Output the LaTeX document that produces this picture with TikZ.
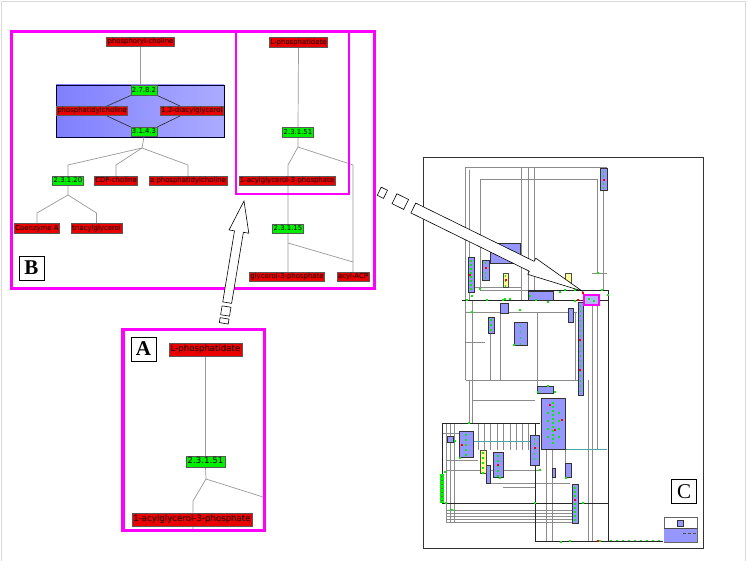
\documentclass[tikz,border=0pt]{standalone}
\usepackage{fontspec}
\newfontfamily\lbl{DejaVu Sans}
\newfontfamily\tagfont{Liberation Serif}
\usetikzlibrary{calc}
\definecolor{nred}{RGB}{235,0,0}
\definecolor{ngreen}{RGB}{0,240,0}
\definecolor{mag}{RGB}{255,0,255}
\definecolor{cblue}{RGB}{150,150,255}
\definecolor{cyel}{RGB}{255,255,150}
\pgfdeclarelayer{bg}
\pgfdeclarelayer{edges}
\pgfsetlayers{bg,edges,main}
\tikzset{
 rn/.style={draw=black!65, fill=nred, text=black, inner xsep=1pt, inner ysep=0pt, minimum height=9.5pt, text height=5.2pt, text depth=1.6pt, font=\lbl\fontsize{6.9}{7}\selectfont, line width=0.5pt},
 gn/.style={rn, fill=ngreen},
 rnA/.style={rn, minimum height=13pt, text height=6.5pt, text depth=2pt, font=\lbl\fontsize{8.6}{9}\selectfont, inner xsep=1.5pt},
 gnA/.style={rnA, fill=ngreen, minimum height=11pt},
 lnk/.style={draw=black!40, line width=0.7pt},
 clnk/.style={draw=black!80, line width=0.7pt},
 panel/.style={draw=mag, line width=3.2pt},
 lettertag/.style={draw=black, line width=0.6pt, fill=white, minimum width=25pt, minimum height=24pt, inner sep=0pt, font=\tagfont\bfseries\fontsize{21}{21}\selectfont},
 blockarrow/.style={draw=black, line width=0.6pt, fill=white, line join=miter},
 cg/.style={draw=black!45, line width=0.55pt},
 ck/.style={draw=black!85, line width=0.75pt},
 cb/.style={draw=black!80, fill=cblue, line width=0.5pt},
 cy/.style={draw=black!70, fill=cyel, line width=0.5pt},
 bluebox/.style={draw=black!80!blue, line width=0.8pt, left color=cblue!85!blue, right color=cblue!80!white, inner sep=0pt},
}
\begin{document}
\begin{tikzpicture}[x=1pt,y=-1pt]
\useasboundingbox (0,0) rectangle (747,561);
\begin{pgfonlayer}{bg}
\fill[white] (0,0) rectangle (747,561);
\end{pgfonlayer}
\draw[black!15, line width=0.8pt] (1,561) -- (1,1) -- (745,1) -- (745,561);

% ---------------- Panel B ----------------
\begin{pgfonlayer}{bg}
\node[bluebox, minimum width=168pt, minimum height=52pt] (cplx) at (140,111) {};
\end{pgfonlayer}
\node[rn] (pc) at (140.5,42) {phosphoryl-choline};
\node[gn] (e2782) at (144,90.5) {2.7.8.2};
\node[rn] (ptc) at (92,111) {phosphatidylcholine};
\node[rn] (dag) at (192,111) {1,2-diacylglycerol};
\node[gn] (e3143) at (144,132) {3.1.4.3};
\node[gn] (e23120) at (68,181) {2.3.1.20};
\node[rn] (cdp) at (116,181) {CDP-choline};
\node[rn] (aptc) at (188,181) {a phosphatidylcholine};
\node[rn] (coa) at (37,228.5) {Coenzyme A};
\node[rn] (tag) at (96.5,228.5) {triacylglycerol};
\node[rn] (lpa) at (298.5,42.5) {L-phosphatidate};
\node[gn] (e23151) at (298,132.5) {2.3.1.51};
\node[rn] (lpa1) at (287,181) {1-acylglycerol-3-phosphate};
\node[gn] (e23115) at (288,229) {2.3.1.15};
\node[rn] (g3p) at (287,277) {glycerol-3-phosphate};
\node[rn] (acp) at (353,277) {acyl-ACP};
\node[lettertag] (labB) at (31.5,268) {B};

\coordinate (j1) at (142,148);
\coordinate (k1) at (0,165);
\coordinate (j2) at (68,195);
\coordinate (k2) at (0,213);
\coordinate (j3) at (298,147);
\coordinate (k3) at (288,165);
\coordinate (k4) at (353,165);
\coordinate (k5) at (288,243);
\coordinate (k6) at (353,262);
\begin{pgfonlayer}{edges}
\draw[lnk] (pc.south) -- (pc.south |- e2782.north);
\draw[clnk] (e2782.south west) -- ([xshift=15pt]ptc.north);
\draw[clnk] ([xshift=15pt]ptc.south) -- (e3143.north west);
\draw[clnk] (e2782.south east) -- ([xshift=-12pt]dag.north);
\draw[clnk] ([xshift=-12pt]dag.south) -- (e3143.north east);
\draw[lnk] (e3143.south) -- (j1) -- (e23120.north |- k1) -- (e23120.north);
\draw[lnk] (j1) -- (cdp.north |- k1) -- (cdp.north);
\draw[lnk] (j1) -- (aptc.north |- k1) -- (aptc.north);
\draw[lnk] (e23120.south) -- (j2) -- (coa.north |- k2) -- (coa.north);
\draw[lnk] (j2) -- (tag.north |- k2) -- (tag.north);
\draw[lnk] (lpa.south) -- (e23151.north);
\draw[lnk] (e23151.south) -- (j3) -- (k3) -- (k3 |- g3p.north);
\draw[lnk] (j3) -- (k4) -- (k4 |- acp.north);
\draw[lnk] (k5) -- (k6);
\end{pgfonlayer}
\draw[panel] (11.3,31.3) rectangle (374.3,288.3);
\draw[draw=mag, line width=2pt] (236.2,32) rectangle (348.8,193.7);

% ---------------- Panel A ----------------
\node[rnA] (alpa) at (205.5,349.5) {L-phosphatidate};
\node[gnA] (ae) at (205.5,461.5) {2.3.1.51};
\node[rnA] (alpa1) at (192,519.5) {1-acylglycerol-3-phosphate};
\node[lettertag] (labA) at (143.5,349) {A};
\coordinate (ja) at (206,479);
\coordinate (ka) at (193,501);
\coordinate (kb) at (193,530);
\coordinate (kc) at (263,497);
\begin{pgfonlayer}{edges}
\draw[lnk] (alpa.south) -- (ae.north);
\draw[lnk] (ae.south) -- (ja) -- (ka) -- (kb);
\draw[lnk] (ja) -- (kc);
\end{pgfonlayer}
\draw[panel] (123,329.2) rectangle (264.2,530.3);

% ---------------- Panel C (overview map) ----------------
\draw[black!80, line width=0.8pt] (423,157) rectangle (703,548);
% gray connectors
\draw[cg] (465,380) -- (465,167) -- (607,167);
\draw[cg] (469,300) -- (469,170);
\draw[cg] (480,290) -- (480,179) -- (597,179) -- (597,273);
\draw[cg] (521,167) -- (521,300);
\draw[cg] (528,167) -- (528,290);
\draw[cg] (534,167) -- (534,300);
\draw[cg] (603,190) -- (603,290);
\draw[cg] (480,290) -- (528,290);
\draw[cg] (474,287) -- (521,287);
\draw[cg] (465,312) -- (577,312);
\draw[cg] (466,380) -- (578,380);
\draw[cg] (469,380) -- (469,423);
\draw[cg] (472,300) -- (472,423);
\draw[cg] (537,312) -- (537,386);
\draw[cg] (575,312) -- (575,380);
\draw[cg] (588,380) -- (588,541);
\draw[cg] (592,300) -- (592,541);
\draw[cg] (597,300) -- (597,449);
\draw[cg] (552,449) -- (552,541);
\draw[cg] (546,449) -- (546,541);
\draw[cg] (592,273) -- (607,273);
\draw[cg] (466,342) -- (485,342);
\draw[cg] (472,400) -- (535,400);
\foreach \xx in {446,450,454} \draw[cg] (\xx,423) -- (\xx,522);
\foreach \xx in {478,484,490,497,503,510,516,522,528} \draw[cg] (\xx,423) -- (\xx,450);
\draw[cg] (442,433) -- (470,433);
\draw[cg] (446,460) -- (478,460);
\draw[cg] (446,470) -- (480,470);
\draw[cg] (486,470) -- (540,470);
\draw[cg] (486,483) -- (570,483);
\draw[cg] (503,487) -- (535,487);
\foreach \yy in {510,513,516,519,522} \draw[cg] (446,\yy) -- (575,\yy);
\draw[cg] (500,312) -- (500,380);
\draw[cg] (490,333) -- (490,380);
\draw[cg] (565,449) -- (565,463);
\draw[teal!70, line width=0.5pt] (565,449) -- (607,449);
\draw[teal!70, line width=0.5pt] (473,441) -- (540,441);
% dark connectors
\draw[ck] (528,290) -- (608,290) -- (608,541);
\draw[ck] (462,300) -- (608,300);
\draw[ck] (442,423) -- (540,423);
\draw[ck] (442,423) -- (442,503) -- (608,503);
\draw[ck] (535,423) -- (535,541) -- (663,541);
% blue pathway boxes
\foreach \xa/\ya/\xb/\yb in {600/168/607/190, 490/243/520/263, 468/257/474/292, 482/260/489/280,
  528/291/553/300, 488/317/494/333, 514/322/527/345, 500/303/508/313, 578/302/583/395,
  541/398/565/449, 530/435/539/465, 459/431/473/457, 447/436/453/442, 493/452/503/477,
  486/465/490/483, 572/484/578/523, 565/463/571/477, 552/468/555/477, 537/386/553/393,
  568/308/573/322, 677/520/683/526}
  \draw[cb] (\xa,\ya) rectangle (\xb,\yb);
\foreach \xa/\ya/\xb/\yb in {503/273/508/287, 565/273/571/283, 480/450/486/473}
  \draw[cy] (\xa,\ya) rectangle (\xb,\yb);
\draw[black!60, line width=0.5pt] (664,517) rectangle (697,542);
\fill[cblue] (664.3,528) rectangle (696.7,541.7);
\draw[black!70, line width=0.4pt] (664,528) -- (697,528);
\fill[ngreen] (440,474) rectangle (444,503);
\draw[draw=mag, line width=1.2pt, fill=cblue!70] (584,295) rectangle (599,305);
% small enzyme / compound markers
\foreach \yy in {305,310,...,392} \fill[ngreen] (579.6,\yy) rectangle ++(1.8,1.8);
\foreach \yy in {487,491,...,520} \fill[ngreen] (574.1,\yy) rectangle ++(1.8,1.8);
\foreach \yy in {260,264,...,290} \fill[ngreen] (470.1,\yy) rectangle ++(1.8,1.8);
\foreach \yy in {171,175,...,188} \fill[ngreen] (602.6,\yy) rectangle ++(1.8,1.8);
\foreach \yy in {476,480,...,501} \fill[black!60] (441.4,\yy) rectangle ++(1.2,1.2);
\foreach \yy in {402,406,...,445} \fill[ngreen] (552.1,\yy) rectangle ++(1.8,1.8);
\foreach \yy in {412,420,...,440} {\fill[ngreen] (547,\yy) rectangle ++(1.8,1.8); \fill[ngreen] (558,\yy) rectangle ++(1.8,1.8);}
\foreach \yy in {438,443,...,462} \fill[ngreen] (533.6,\yy) rectangle ++(1.8,1.8);
\foreach \yy in {434,439,...,455} \fill[ngreen] (465,\yy) rectangle ++(1.8,1.8);
\foreach \yy in {452,457,...,472} \fill[ngreen] (482,\yy) rectangle ++(1.8,1.8);
\foreach \yy in {455,460,...,475} \fill[ngreen] (497,\yy) rectangle ++(1.8,1.8);
\foreach \yy in {262,267,...,279} \fill[ngreen] (484.6,\yy) rectangle ++(1.8,1.8);
\foreach \yy in {275,280,...,286} \fill[ngreen] (504.6,\yy) rectangle ++(1.8,1.8);
\foreach \yy in {319,324,...,332} \fill[ngreen] (490.1,\yy) rectangle ++(1.8,1.8);
\foreach \yy in {325,331,...,343} \fill[ngreen] (519.6,\yy) rectangle ++(1.8,1.8);
\foreach \xx in {610,616,...,662} \fill[ngreen] (\xx,539.6) rectangle ++(1.8,1.8);
\foreach \xx in {683,688,693} \fill[black!70] (\xx,533) rectangle ++(2.5,1);
\foreach \xx/\yy in {598/273, 472/296, 503/300, 565/290, 575/290, 536/300, 548/302, 514/345,
  469/423, 505/299, 530/296, 560/292, 589/299, 594/301, 510/299, 487/300, 480/289,
  445/472, 455/441, 460/458, 500/478, 540/470, 566/478, 548/386, 538/392, 555/392,
  561/542, 570/541, 600/541, 583/503, 535/503, 495/250, 515/252, 505/258, 467/300,
  575/301, 472/312, 520/310, 602/290, 608/295, 446/503, 452/510}
  \fill[ngreen] (\xx-0.9,\yy-0.9) rectangle ++(1.8,1.8);
\foreach \xx/\yy in {583/293, 486/268, 550/405, 562/420, 578/300, 604/180, 470/275,
  580/340, 580/370, 575/500, 535/448, 498/465, 462/445, 555/430, 506/280, 598/541}
  \fill[red] (\xx-0.8,\yy-0.8) rectangle ++(1.6,1.6);
\node[lettertag, font=\tagfont\fontsize{21}{21}\selectfont] (labC) at (684,491.5) {C};

% ---------------- block arrows ----------------
\begin{scope}[shift={(244,201)}, rotate=-99.4]
\draw[blockarrow] (0,0) -- (31,10) -- (31,4.5) -- (103,4.5) -- (103,-4.5) -- (31,-4.5) -- (31,-10) -- cycle;
\draw[blockarrow] (107,-4.5) rectangle (116,4.5);
\draw[blockarrow] (119,-4.5) rectangle (124,4.5);
\end{scope}
\begin{scope}[shift={(582,291)}, rotate=153.8]
\draw[blockarrow] (0,0) -- (56,9) -- (56,5.5) -- (188,5.5) -- (188,-5.5) -- (56,-5.5) -- (56,-9) -- cycle;
\draw[blockarrow] (196,-5.5) rectangle (209,5.5);
\draw[blockarrow] (219,-4.5) rectangle (226,4.5);
\end{scope}
\end{tikzpicture}
\end{document}
